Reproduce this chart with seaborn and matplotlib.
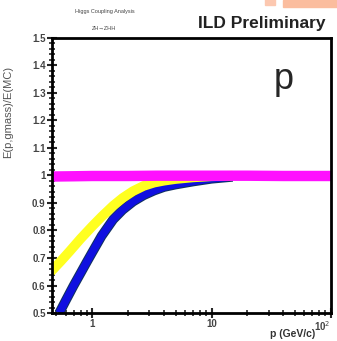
import numpy as np
import pandas as pd
import matplotlib
matplotlib.use("Agg")
import matplotlib.pyplot as plt
import matplotlib.patheffects as pe
from matplotlib.ticker import MultipleLocator, FixedLocator, FixedFormatter
import seaborn as sns

# --- datos ---
p_magenta = [0.45, 0.7, 1.0, 2.0, 3.5, 5.0, 10.0, 20.0, 40.0, 70.0, 100.0]
e_magenta = [0.996, 0.997, 0.998, 0.998, 0.999, 0.999, 0.999, 0.999, 0.998, 0.998, 0.998]

p_yellow = [0.45, 0.55, 0.65, 0.8, 1.0, 1.2, 1.5, 1.8, 2.2, 2.7, 3.3, 4.0, 5.0, 7.0, 10.0, 15.0]
e_yellow = [0.65, 0.69, 0.725, 0.77, 0.815, 0.85, 0.89, 0.918, 0.943, 0.962, 0.974, 0.981,
            0.987, 0.993, 0.997, 0.999]

p_blue = [0.53, 0.6, 0.7, 0.8, 0.9, 1.0, 1.2, 1.5, 1.8, 2.2, 2.7, 3.3, 4.0, 5.0, 7.0, 10.0, 15.0]
e_blue = [0.5, 0.545, 0.6, 0.645, 0.685, 0.72, 0.78, 0.84, 0.875, 0.905, 0.928, 0.945,
          0.958, 0.967, 0.978, 0.988, 0.995]

y_ticks = [0.5, 0.6, 0.7, 0.8, 0.9, 1.0, 1.1, 1.2, 1.3, 1.4, 1.5]
y_ticklabels = ["0.5", "0.6", "0.7", "0.8", "0.9", "1", "1.1", "1.2", "1.3", "1.4", "1.5"]
x_ticks = [1, 10, 100]
x_ticklabels = ["1", "10", "10$^{2}$"]

df_b = pd.DataFrame({"p": p_blue, "E": e_blue})
df_y = pd.DataFrame({"p": p_yellow, "E": e_yellow})
df_m = pd.DataFrame({"p": p_magenta, "E": e_magenta})

sns.set_style("ticks")
plt.rcParams["font.family"] = ["Liberation Sans", "DejaVu Sans"]

fig = plt.figure(figsize=(3.37, 3.41), dpi=100)
ax = fig.add_axes([0.154, 0.082, 0.828, 0.807])

sns.lineplot(data=df_b, x="p", y="E", color="#1010e0", lw=5.5, ax=ax, legend=False,
             solid_capstyle="butt",
             path_effects=[pe.Stroke(linewidth=7, foreground="#103060"), pe.Normal()])
sns.lineplot(data=df_y, x="p", y="E", color="#ffff20", lw=7, ax=ax, legend=False,
             solid_capstyle="butt")
sns.lineplot(data=df_m, x="p", y="E", color="#ff10ff", lw=7.5, ax=ax, legend=False)

ax.set_xscale("log")
ax.set_xlim(0.46, 100)
ax.set_ylim(0.5, 1.5)

ax.xaxis.set_major_locator(FixedLocator(x_ticks))
ax.xaxis.set_major_formatter(FixedFormatter(x_ticklabels))
ax.yaxis.set_major_locator(FixedLocator(y_ticks))
ax.yaxis.set_major_formatter(FixedFormatter(y_ticklabels))
ax.yaxis.set_minor_locator(MultipleLocator(0.02))

ax.tick_params(axis="both", which="major", direction="inout", length=7, width=1.5,
               labelsize=7, labelcolor="#444444", pad=1)
ax.tick_params(axis="both", which="minor", direction="inout", length=4, width=1.2)
for lab in ax.get_yticklabels() + ax.get_xticklabels():
    lab.set_fontweight("bold")
# la ultima etiqueta (10^2) pegada al borde derecho
fig.canvas.draw()
ax.get_xticklabels()[-1].set_horizontalalignment("right")

for s in ax.spines.values():
    s.set_linewidth(2)
    s.set_color("black")

ax.set_xlabel("")
fig.text(0.935, 0.006, "p (GeV/c)", fontsize=7.5, fontweight="bold", color="#333333",
         ha="right", va="bottom")
ax.set_ylabel("E(p,gmass)/E(MC)", fontsize=8, color="#555555")
ax.yaxis.set_label_coords(-0.14, 0.73)

ax.text(0.83, 0.85, "p", transform=ax.transAxes, fontsize=26, ha="center", va="center")

fig.text(0.31, 0.965, "Higgs Coupling Analysis", fontsize=4, color="#444444", ha="center", va="center")
fig.text(0.31, 0.915, "ZH\u2192ZHH", fontsize=4, color="#444444", ha="center", va="center")
fig.text(0.965, 0.932, "ILD Preliminary", fontsize=12.5, fontweight="bold", color="#222222",
         ha="right", va="center")

# restos naranjas arriba a la derecha
fig.patches.append(plt.Rectangle((0.786, 0.985), 0.03, 0.02, transform=fig.transFigure,
                                 color="#fcc8b0", zorder=0))
fig.patches.append(plt.Rectangle((0.84, 0.98), 0.16, 0.02, transform=fig.transFigure,
                                 color="#fbbd9e", zorder=0))

fig.savefig("out.png", dpi=100)
